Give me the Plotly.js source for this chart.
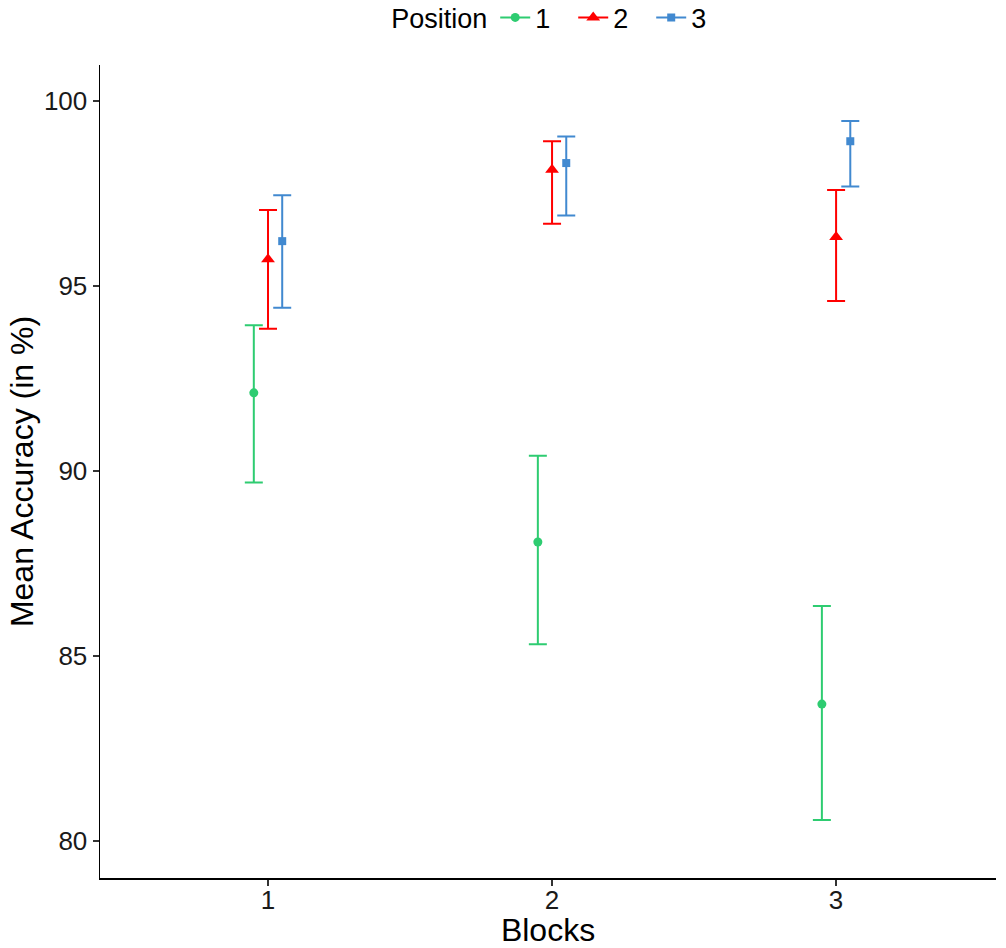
<!DOCTYPE html>
<html>
<head>
<meta charset="utf-8">
<script src="https://cdn.plot.ly/plotly-3.0.1.min.js"></script>
<style>
html,body{margin:0;padding:0;background:#fff;}
#chart{width:1006px;height:948px;}
</style>
</head>
<body>
<div id="chart"></div>
<script>
// Data
var blocks = [1, 2, 3];
var positions = ["1", "2", "3"];
var dodge = [-0.05, 0, 0.05];
var mean1 = [92.11, 88.08, 83.70];
var upper1 = [93.94, 90.41, 86.35];
var lower1 = [89.69, 85.32, 80.57];
var mean2 = [95.72, 98.14, 96.32];
var upper2 = [97.05, 98.91, 97.59];
var lower2 = [93.84, 96.68, 94.59];
var mean3 = [96.21, 98.32, 98.91];
var upper3 = [97.45, 99.04, 99.46];
var lower3 = [94.41, 96.90, 97.69];
var yTicks = [80, 85, 90, 95, 100];

var colors = ["#2ECC71", "#FF0000", "#4189D0"];
var symbols = ["circle", "triangle-up", "square"];
var sizes = [9, 12, 8];
var means = [mean1, mean2, mean3];
var uppers = [upper1, upper2, upper3];
var lowers = [lower1, lower2, lower3];

var traces = [];
for (var i = 0; i < 3; i++) {
  (function(i){
    var xs = blocks.map(function(b){ return b + dodge[i]; });
    var plus = means[i].map(function(m, k){ return uppers[i][k] - m; });
    var minus = means[i].map(function(m, k){ return m - lowers[i][k]; });
    traces.push({
      type: "scatter", mode: "markers", x: xs, y: means[i],
      showlegend: false,
      marker: {color: colors[i], symbol: symbols[i], size: sizes[i]},
      error_y: {type: "data", symmetric: false, array: plus, arrayminus: minus,
        color: colors[i], thickness: 2, width: 9}
    });
  })(i);
}
// legend keys
for (var j = 0; j < 3; j++) {
  traces.push({
    type: "scatter", mode: "lines+markers", x: [null], y: [null],
    name: positions[j],
    line: {color: colors[j], width: 2},
    marker: {color: colors[j], symbol: symbols[j], size: sizes[j]}
  });
}

var layout = {
  width: 1006, height: 948,
  margin: {l: 100, r: 10, t: 65, b: 70, autoexpand: false},
  paper_bgcolor: "#fff", plot_bgcolor: "#fff",
  font: {family: "Liberation Sans, Arial, sans-serif", color: "#000"},
  showlegend: true,
  legend: {
    orientation: "h", x: 0.513, xanchor: "center", y: 1.058, yanchor: "middle",
    title: {text: "Position", side: "left", font: {size: 27, color: "#000"}},
    font: {size: 27, color: "#000"},
    itemwidth: 30, tracegroupgap: 0,
    entrywidth: 33, entrywidthmode: "pixels"
  },
  xaxis: {
    range: [0.4085, 3.563], tickmode: "array", tickvals: blocks,
    ticktext: blocks.map(String),
    showgrid: false, zeroline: false,
    showline: true, linecolor: "#000", linewidth: 1.5,
    ticks: "outside", ticklen: 6, tickwidth: 1.5, tickcolor: "#333",
    ticklabelstandoff: -8,
    tickfont: {size: 26, color: "#1a1a1a"},
    title: {text: "Blocks", font: {size: 32, color: "#000"}, standoff: 6}
  },
  yaxis: {
    range: [79.0, 100.97], tickmode: "array", tickvals: yTicks,
    ticktext: yTicks.map(String),
    showgrid: false, zeroline: false,
    showline: true, linecolor: "#000", linewidth: 1.5,
    ticks: "outside", ticklen: 6, tickwidth: 1.5, tickcolor: "#333",
    tickfont: {size: 26, color: "#1a1a1a"},
    title: {text: "Mean Accuracy (in %)", font: {size: 32, color: "#000"}, standoff: 0}
  }
};

Plotly.newPlot("chart", traces, layout, {displayModeBar: false, staticPlot: true});
</script>
</body>
</html>
